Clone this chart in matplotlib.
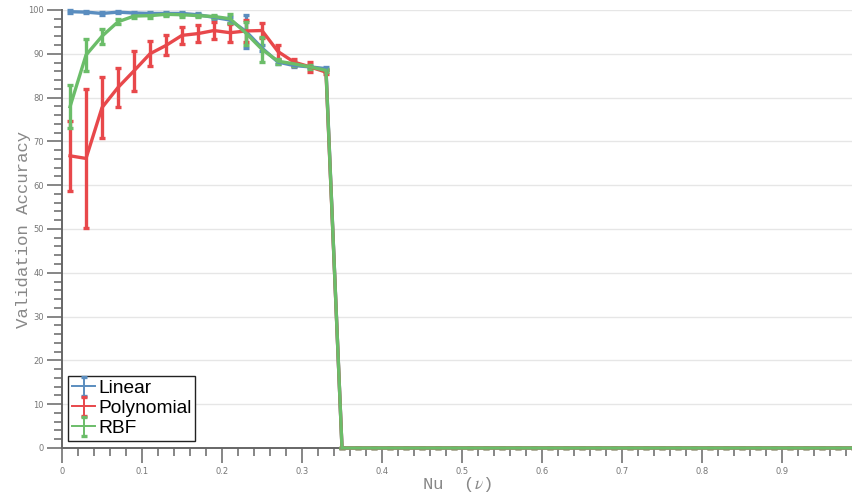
import numpy as np
import matplotlib.pyplot as plt
from matplotlib.lines import Line2D
from matplotlib.collections import LineCollection
from matplotlib.ticker import MultipleLocator

plt.rcParams['mathtext.fontset'] = 'stix'

# nu values 0.01 .. 0.99, every second hundredth
nu = np.round(np.arange(0.01, 1.0, 0.02), 2)
n_zero = len(nu) - 17  # everything past 0.33 scores 0

linear_acc = [99.6, 99.5, 99.2, 99.5, 99.3, 99.2, 99.2, 99.2, 98.9, 98.3,
              97.7, 95.1, 91.3, 88.1, 87.3, 87.0, 86.6] + [0.0] * n_zero
linear_err = [0.3, 0.3, 0.3, 0.3, 0.3, 0.3, 0.3, 0.3, 0.3, 0.3,
              0.6, 3.7, 0.6, 0.4, 0.3, 0.3, 0.3] + [0.1] * n_zero

poly_acc = [66.7, 66.1, 77.7, 82.3, 86.1, 90.0, 91.9, 94.2, 94.6, 95.3,
            94.8, 95.2, 95.3, 90.5, 88.1, 87.0, 85.8] + [0.0] * n_zero
poly_err = [8.0, 15.9, 7.0, 4.4, 4.6, 2.9, 2.3, 1.9, 1.9, 1.9,
            2.1, 2.5, 1.7, 1.6, 0.8, 1.1, 0.5] + [0.1] * n_zero

rbf_acc = [77.9, 89.7, 94.0, 97.3, 98.6, 98.7, 99.0, 98.9, 98.7, 98.5,
           98.0, 94.7, 91.0, 88.3, 87.7, 87.0, 86.2] + [0.0] * n_zero
rbf_err = [4.9, 3.7, 1.7, 0.6, 0.5, 0.5, 0.4, 0.4, 0.4, 0.4,
           1.0, 2.6, 2.9, 0.6, 0.5, 0.5, 0.4] + [0.1] * n_zero

series = [('Linear', linear_acc, linear_err, '#5a8dbf'),
          ('Polynomial', poly_acc, poly_err, '#e8484b'),
          ('RBF', rbf_acc, rbf_err, '#6bbd69')]

fig = plt.figure(figsize=(8.53, 4.97), dpi=100)
ax = fig.add_axes([0.0727, 0.0986, 0.9261, 0.8814])

for name, acc, err, color in series:
    ax.errorbar(nu, acc, yerr=err, color=color, lw=2.4, elinewidth=2.4,
                capsize=2.4, capthick=2.4, label=name, clip_on=False, zorder=3)

ax.set_xlim(0, 0.9875)
ax.set_ylim(0, 100)

ax.xaxis.set_minor_locator(MultipleLocator(0.02))
ax.yaxis.set_minor_locator(MultipleLocator(2))
ax.set_xticks(np.arange(0, 1.0, 0.1))
ax.set_xticklabels(['0', '0.1', '0.2', '0.3', '0.4', '0.5', '0.6', '0.7', '0.8', '0.9'])
ax.set_yticks(np.arange(0, 101, 10))

ax.tick_params(which='major', direction='out', length=11, width=1.1,
               color='#666666', labelsize=6, labelcolor='#777777')
ax.tick_params(which='minor', direction='out', length=6, width=1.1, color='#666666')
ax.tick_params(axis='x', which='major', pad=2.5)
ax.tick_params(axis='y', which='major', pad=2)

ax.grid(axis='y', which='major', color='#e6e6e6', lw=1)
ax.set_axisbelow(True)
for side in ['top', 'right']:
    ax.spines[side].set_visible(False)
for side in ['left', 'bottom']:
    ax.spines[side].set_color('#666666')
    ax.spines[side].set_linewidth(1.4)

label_font = dict(family='Liberation Mono', size=12.5, color='#888888')
ax.set_ylabel('Validation Accuracy', labelpad=-2, **label_font)
ax.set_xlabel(r'Nu  ($\nu$)', labelpad=-0.3, **label_font)

leg = ax.legend(loc='lower left', bbox_to_anchor=(0.008, 0.016),
                prop={'family': 'Liberation Sans', 'size': 13.8},
                frameon=True, fancybox=False, framealpha=1,
                handlelength=1.2, handletextpad=0.15, borderpad=0.2,
                labelspacing=0.14, borderaxespad=0)
leg.get_frame().set_edgecolor('#222222')
leg.get_frame().set_linewidth(1.0)
leg.set_zorder(5)
# thinner lines in the legend keys
for art in leg.findobj(lambda a: isinstance(a, (Line2D, LineCollection))):
    art.set_linewidth(1.4)

plt.savefig('out.png', dpi=100)
